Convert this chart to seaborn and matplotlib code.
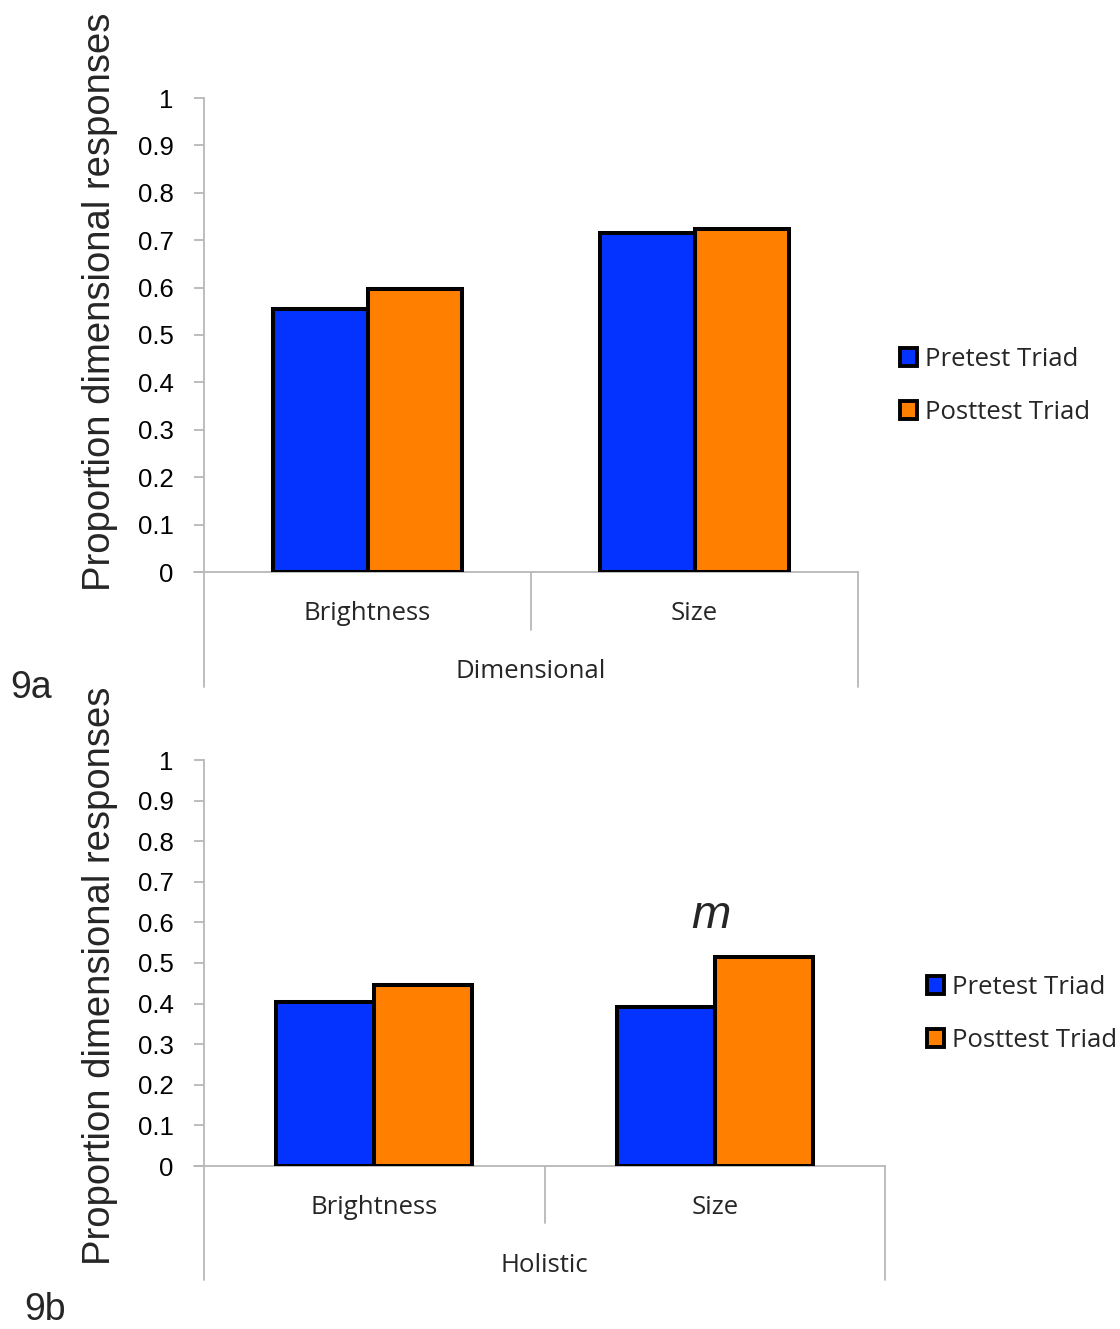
import matplotlib
matplotlib.use("Agg")
import matplotlib.pyplot as plt
import seaborn as sns
import pandas as pd
from matplotlib.patches import Patch

categories = ["Brightness", "Size"]
series_names = ["Pretest Triad", "Posttest Triad"]
dim_pretest = [0.554, 0.715]
dim_posttest = [0.596, 0.723]
hol_pretest = [0.404, 0.392]
hol_posttest = [0.446, 0.516]
yticks = [0, 0.1, 0.2, 0.3, 0.4, 0.5, 0.6, 0.7, 0.8, 0.9, 1]
ytick_labels = ["0", "0.1", "0.2", "0.3", "0.4", "0.5", "0.6", "0.7", "0.8", "0.9", "1"]
ylabel = "Proportion dimensional responses"

sns.set_theme(style="white")
plt.rcParams['font.family'] = ['Liberation Sans', 'DejaVu Sans']

W, H = 1120, 1329
fig = plt.figure(figsize=(W / 100, H / 100), dpi=100)
colors = ["#0433ff", "#ff7f00"]
GRAY = "#b8b8b8"
CAT_FONT = ['Open Sans', 'DejaVu Sans']


def make_df(pre, post):
    return pd.DataFrame({
        "category": categories * 2,
        "series": [series_names[0]] * 2 + [series_names[1]] * 2,
        "value": list(pre) + list(post),
    })


def panel(px_left, px_right, px_top, px_zero, pre, post, group_name,
          sep_bottom, outer_bottom, cat_y, group_y, legend_xy, label_xy, panel_label):
    ax = fig.add_axes([px_left / W, 1 - px_zero / H, (px_right - px_left) / W, (px_zero - px_top) / H])
    df = make_df(pre, post)
    sns.barplot(data=df, x="category", y="value", hue="series", order=categories,
                hue_order=series_names, palette=colors, width=0.575, gap=0,
                edgecolor="black", linewidth=2.9, saturation=1, ax=ax, legend=False)
    ax.set_ylim(0, 1)
    ax.set_xlim(-0.5, 1.5)
    ax.set_yticks(yticks)
    ax.set_yticklabels(ytick_labels, fontsize=18.5)
    ax.set_xticks([])
    ax.set_xlabel("")
    ax.set_ylabel("")
    for s in ["top", "right"]:
        ax.spines[s].set_visible(False)
    ax.spines["left"].set_color(GRAY)
    ax.spines["left"].set_linewidth(1.3)
    ax.spines["bottom"].set_color(GRAY)
    ax.spines["bottom"].set_linewidth(1.3)
    ax.spines["bottom"].set_zorder(0)
    ax.tick_params(axis="y", left=True, length=7, width=1.3, color=GRAY, pad=15, labelcolor="black")
    ax.axhline(0, xmin=-10 / (px_right - px_left), xmax=0, color=GRAY, lw=1.3, clip_on=False)
    h = px_zero - px_top

    def fy(py):
        return (px_zero - py) / h

    tr = ax.get_xaxis_transform()
    ax.plot([-0.5, -0.5], [0, fy(outer_bottom)], color=GRAY, lw=1.3, transform=tr, clip_on=False)
    ax.plot([1.5, 1.5], [0, fy(outer_bottom)], color=GRAY, lw=1.3, transform=tr, clip_on=False)
    ax.plot([0.5, 0.5], [0, fy(sep_bottom)], color=GRAY, lw=1.3, transform=tr, clip_on=False)
    for i, c in enumerate(categories):
        ax.text(i, fy(cat_y), c, transform=tr, ha="center", va="center", fontsize=18.5,
                family=CAT_FONT)
    ax.text(0.5, fy(group_y), group_name, transform=tr, ha="center", va="center",
            fontsize=18.5, family=CAT_FONT)
    handles = [Patch(facecolor=colors[k], edgecolor="black", linewidth=2.8) for k in range(2)]
    fig.legend(handles, series_names, loc="upper left",
               bbox_to_anchor=(legend_xy[0] / W, 1 - legend_xy[1] / H),
               frameon=False, prop={"family": CAT_FONT, "size": 18.5},
               handlelength=0.68, handleheight=0.68, handletextpad=0.28,
               labelspacing=1.08, borderpad=0, borderaxespad=0)
    fig.text(label_xy[0] / W, 1 - label_xy[1] / H, panel_label, fontsize=27,
             ha="left", va="center")
    return ax


ax1 = panel(204, 858, 98, 572, dim_pretest, dim_posttest, "Dimensional",
            630, 687, 614, 671, (900, 347), (10, 688), "9a")
ax2 = panel(204, 885, 760, 1166, hol_pretest, hol_posttest, "Holistic",
            1223, 1280, 1208, 1265, (927, 975), (24, 1310), "9b")

fig.text(100 / W, 1 - 302 / H, ylabel, rotation=90, ha="center", va="center", fontsize=27.5)
fig.text(100 / W, 1 - 976 / H, ylabel, rotation=90, ha="center", va="center", fontsize=27.5)

# significance marker above the Size posttest bar in the holistic panel
ax2.text(0.99, 0.615, "m", ha="center", va="center", fontsize=34, style="italic")

fig.savefig("out.png", dpi=100)
